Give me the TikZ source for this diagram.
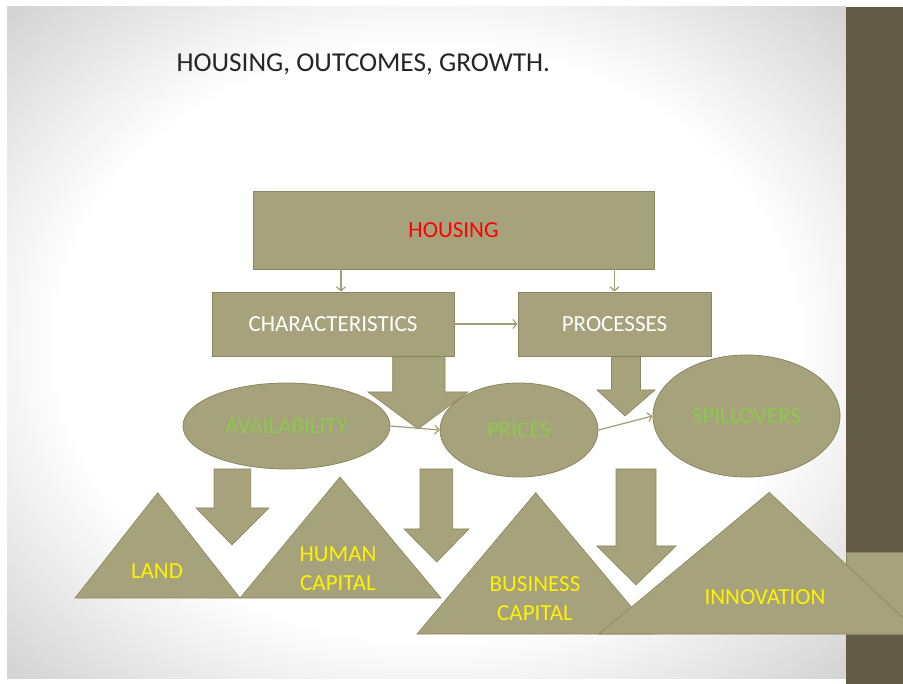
\documentclass[tikz,border=0pt]{standalone}
\usepackage{fontspec}
\setmainfont{Carlito}
\usetikzlibrary{shapes.geometric,arrows.meta}

\definecolor{olivefill}{HTML}{A6A27C}
\definecolor{oliveline}{HTML}{8A865F}
\definecolor{barbrown}{HTML}{625B45}
\definecolor{labelgreen}{HTML}{8CC84B}
\definecolor{linkcol}{HTML}{A19D75}

\pgfdeclareradialshading{slideglow}{\pgfpoint{0bp}{0bp}}{color(0bp)=(white);color(22bp)=(white);color(35bp)=(black!17);color(50bp)=(black!17)}

\tikzset{
  box/.style={draw=oliveline, fill=olivefill, line width=0.8pt, inner sep=0pt, font=\fontsize{23}{28}\selectfont},
  oval/.style={box, ellipse, text=labelgreen},
  hill/.style={draw=oliveline, fill=olivefill, line width=0.6pt},
  hilltext/.style={text=yellow, align=center, font=\fontsize{23}{29}\selectfont},
  blockarr/.style={draw=oliveline, fill=olivefill, line width=0.6pt},
  link/.style={-{Straight Barb[length=4pt,width=9pt]}, draw=linkcol, line width=1.2pt}
}

% block arrow: shaft left/right, shaft top, head top, head left/right, tip
\newcommand{\blockarrow}[8]{\draw[blockarr] (#1,#3) -- (#2,#3) -- (#2,#4) -- (#6,#4) -- (#7,#8) -- (#5,#4) -- (#1,#4) -- cycle;}

\begin{document}
\begin{tikzpicture}[x=1pt,y=-1pt]
\useasboundingbox (0,0) rectangle (903,684);
\fill[white] (0,0) rectangle (903,684);
\shade[shading=slideglow] (7,7) rectangle (846,678);
\fill[barbrown] (846,7) rectangle (903,684);

\node[anchor=base west, font=\fontsize{27.3}{32}\selectfont, text=black!85] (title) at (173,72) {HOUSING, OUTCOMES, GROWTH.};

% arrows from the second row
\blockarrow{392.7}{445}{356}{392}{368}{468}{418}{429}
\blockarrow{611.5}{640.5}{356}{390}{597}{655}{625}{416}

\node[box, minimum width=401pt, minimum height=78pt, text=red] (housing) at (453.5,230) {HOUSING};
\node[box, minimum width=242pt, minimum height=64pt, text=white] (chars) at (333,324) {CHARACTERISTICS};
\node[box, minimum width=193pt, minimum height=64pt, text=white] (procs) at (614.5,324) {PROCESSES};

\node[oval, minimum width=207pt, minimum height=86pt] (avail) at (286.5,426) {AVAILABILITY};
\node[oval, minimum width=158pt, minimum height=94pt] (prices) at (519,430) {PRICES};
\node[oval, minimum width=187pt, minimum height=122pt] (spill) at (746.5,416) {SPILLOVERS};

% arrows to the outcomes
\blockarrow{214}{250.7}{469}{508}{196}{269}{232}{545}
\blockarrow{420}{452.7}{469}{529}{404}{469}{436.7}{562}
\blockarrow{616}{656}{469}{546}{596.7}{676}{636}{585}

\draw[hill] (75,598) -- (157.7,492.7) -- (240,598) -- cycle;
\draw[hill] (240,598) -- (340,477) -- (441,598) -- cycle;
\draw[hill] (417,634) -- (535.7,492.7) -- (654,634) -- cycle;
\draw[hill] (846,552) rectangle (903,634);
\begin{scope}
\clip (0,0) rectangle (903,684);
\draw[hill] (599,634) -- (769.3,492.3) -- (920,634) -- cycle;
\end{scope}

\node[hilltext] (land) at (157,571) {LAND};
\node[hilltext] (human) at (338,568.5) {HUMAN\\CAPITAL};
\node[hilltext] (business) at (535,598.5) {BUSINESS\\CAPITAL};
\node[hilltext] (innov) at (765,597) {INNOVATION};

\draw[link] ([xshift=8pt]chars.north |- housing.south) -- ([xshift=8pt]chars.north);
\draw[link] (procs.north |- housing.south) -- (procs.north);
\draw[link] (chars.east) -- (procs.west);
\draw[link] (avail.east) -- (prices.west);
\draw[link] (prices.east) -- (spill.west);

\end{tikzpicture}
\end{document}
